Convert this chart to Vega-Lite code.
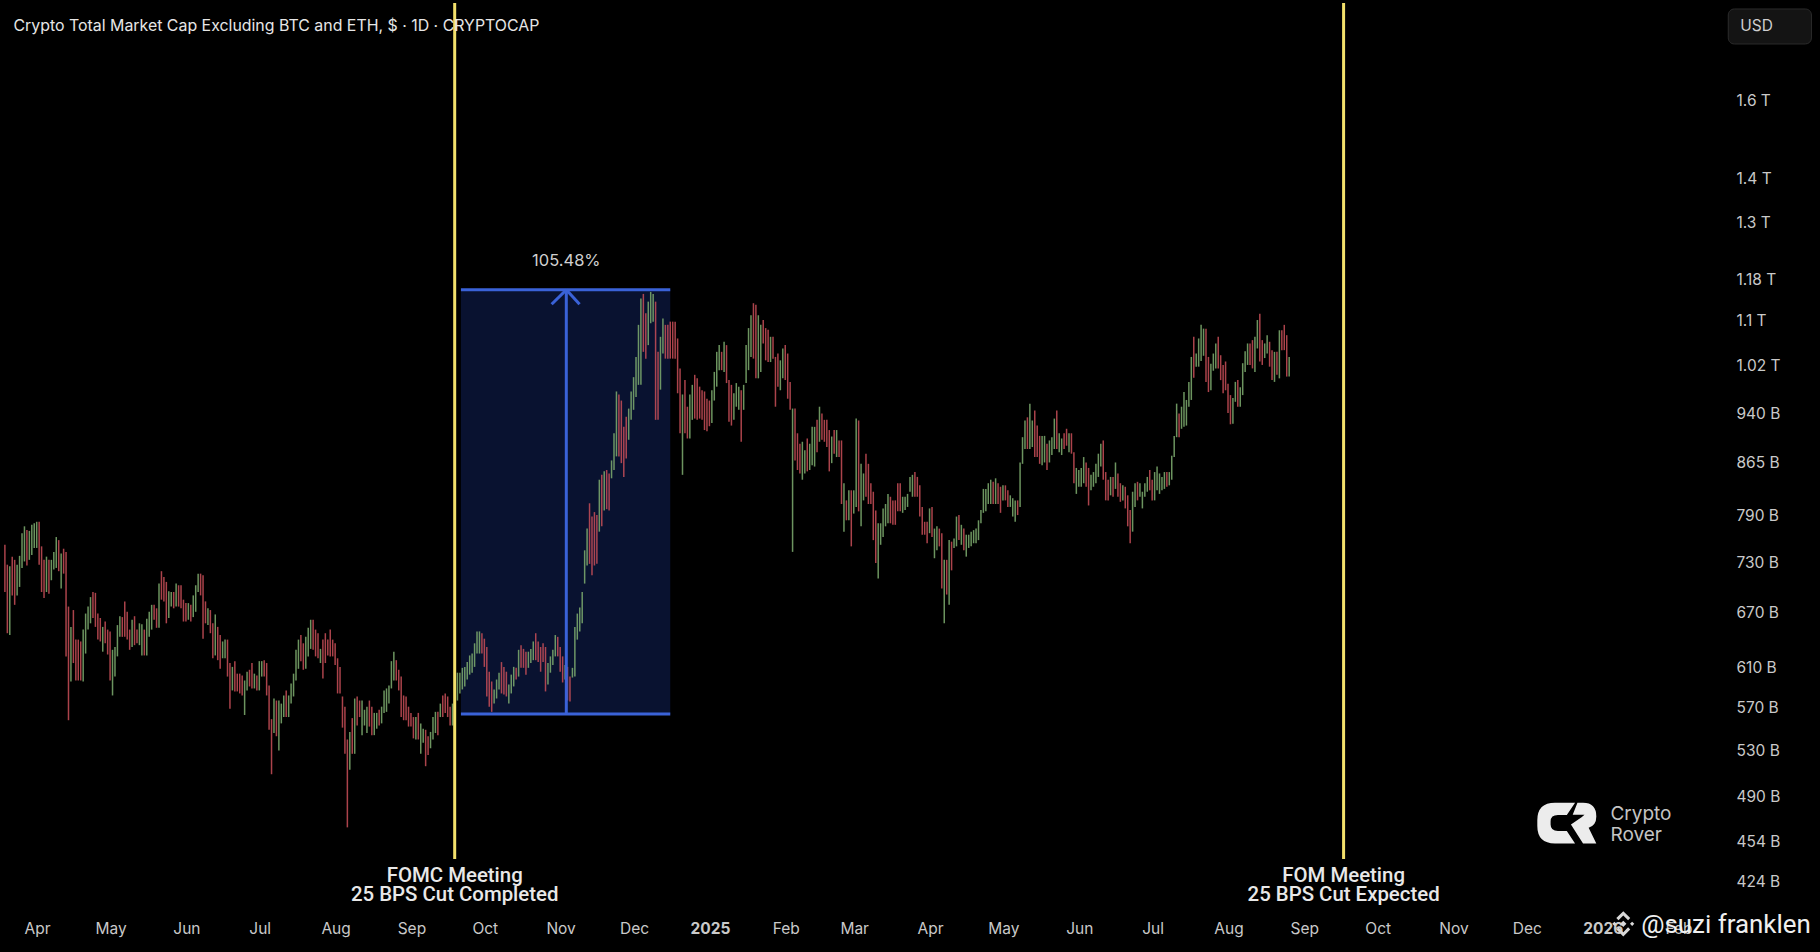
{
  "$schema": "https://vega.github.io/schema/vega-lite/v6.json",
  "width": 1820,
  "height": 952,
  "padding": 0,
  "autosize": "none",
  "background": "#000000",
  "config": {"view": {"stroke": null}},
  "encoding": {
    "x": {
      "field": "date",
      "type": "temporal",
      "scale": {"type": "utc", "domain": ["2024-03-16", "2026-03-30"]},
      "axis": {
        "title": null,
        "orient": "bottom",
        "offset": -31,
        "grid": false,
        "domain": false,
        "ticks": false,
        "labelPadding": 0,
        "labelOffset": -2,
        "labelFont": "Inter",
        "labelFontSize": 15.5,
        "labelColor": "#c9c9c9",
        "labelOverlap": false,
        "labelFontWeight": {"condition": {"test": "utcmonth(datum.value) == 0", "value": "bold"}, "value": "normal"},
        "labelExpr": "utcmonth(datum.value) == 0 ? utcFormat(datum.value, '%Y') : utcFormat(datum.value, '%b')",
        "values": ["2024-04-01","2024-05-01","2024-06-01","2024-07-01","2024-08-01","2024-09-01","2024-10-01","2024-11-01","2024-12-01","2025-01-01","2025-02-01","2025-03-01","2025-04-01","2025-05-01","2025-06-01","2025-07-01","2025-08-01","2025-09-01","2025-10-01","2025-11-01","2025-12-01","2026-01-01","2026-02-01"]
      }
    },
    "y": {
      "field": "low",
      "type": "quantitative",
      "scale": {"type": "log", "domain": [377.1, 1899.4], "nice": false},
      "axis": {
        "title": null,
        "orient": "right",
        "offset": -84,
        "grid": false,
        "domain": false,
        "ticks": false,
        "labelPadding": 0,
        "labelOffset": -1,
        "labelAlign": "left",
        "labelFont": "Inter",
        "labelFontSize": 15.5,
        "labelColor": "#c9c9c9",
        "labelOverlap": false,
        "values": [1600,1400,1300,1180,1100,1020,940,865,790,730,670,610,570,530,490,454,424],
        "labelExpr": "datum.value >= 1000 ? (datum.value / 1000) + ' T' : datum.value + ' B'"
      }
    }
  },
  "layer": [
    {
      "data": {"values": [{"date": "2024-09-20T10:00:00Z", "end": "2024-12-15T00:00:00Z", "low": 565, "high": 1161}], "format": {"parse": {"date": "date", "end": "date"}}},
      "mark": {"type": "rect", "fill": "#091230"},
      "encoding": {"x2": {"field": "end"}, "y2": {"field": "high"}}
    },
    {
      "data": {
        "format": {"parse": {"date": "date"}},
        "values": [
{"date":"2024-03-18","low":695,"high":753,"dir":"r"},
{"date":"2024-03-19","low":648,"high":728,"dir":"r"},
{"date":"2024-03-20","low":646,"high":726,"dir":"g"},
{"date":"2024-03-21","low":691,"high":738,"dir":"r"},
{"date":"2024-03-22","low":680,"high":734,"dir":"r"},
{"date":"2024-03-23","low":691,"high":728,"dir":"g"},
{"date":"2024-03-24","low":701,"high":739,"dir":"g"},
{"date":"2024-03-25","low":724,"high":768,"dir":"g"},
{"date":"2024-03-26","low":732,"high":777,"dir":"g"},
{"date":"2024-03-27","low":727,"high":772,"dir":"r"},
{"date":"2024-03-28","low":734,"high":771,"dir":"g"},
{"date":"2024-03-29","low":740,"high":779,"dir":"g"},
{"date":"2024-03-30","low":749,"high":781,"dir":"g"},
{"date":"2024-03-31","low":749,"high":783,"dir":"g"},
{"date":"2024-04-01","low":728,"high":783,"dir":"r"},
{"date":"2024-04-02","low":695,"high":751,"dir":"r"},
{"date":"2024-04-03","low":688,"high":734,"dir":"r"},
{"date":"2024-04-04","low":695,"high":738,"dir":"g"},
{"date":"2024-04-05","low":693,"high":734,"dir":"r"},
{"date":"2024-04-06","low":709,"high":734,"dir":"g"},
{"date":"2024-04-07","low":722,"high":744,"dir":"g"},
{"date":"2024-04-08","low":724,"high":763,"dir":"g"},
{"date":"2024-04-09","low":720,"high":759,"dir":"r"},
{"date":"2024-04-10","low":699,"high":742,"dir":"g"},
{"date":"2024-04-11","low":717,"high":748,"dir":"r"},
{"date":"2024-04-12","low":623,"high":744,"dir":"r"},
{"date":"2024-04-13","low":559,"high":678,"dir":"r"},
{"date":"2024-04-14","low":597,"high":655,"dir":"g"},
{"date":"2024-04-15","low":616,"high":674,"dir":"r"},
{"date":"2024-04-16","low":598,"high":641,"dir":"r"},
{"date":"2024-04-17","low":598,"high":641,"dir":"r"},
{"date":"2024-04-18","low":598,"high":639,"dir":"r"},
{"date":"2024-04-19","low":597,"high":652,"dir":"g"},
{"date":"2024-04-20","low":626,"high":670,"dir":"g"},
{"date":"2024-04-21","low":652,"high":678,"dir":"g"},
{"date":"2024-04-22","low":659,"high":689,"dir":"g"},
{"date":"2024-04-23","low":665,"high":695,"dir":"r"},
{"date":"2024-04-24","low":655,"high":694,"dir":"r"},
{"date":"2024-04-25","low":641,"high":670,"dir":"r"},
{"date":"2024-04-26","low":639,"high":665,"dir":"r"},
{"date":"2024-04-27","low":628,"high":655,"dir":"g"},
{"date":"2024-04-28","low":637,"high":661,"dir":"r"},
{"date":"2024-04-29","low":625,"high":652,"dir":"r"},
{"date":"2024-04-30","low":598,"high":650,"dir":"r"},
{"date":"2024-05-01","low":583,"high":630,"dir":"g"},
{"date":"2024-05-02","low":602,"high":633,"dir":"g"},
{"date":"2024-05-03","low":623,"high":657,"dir":"g"},
{"date":"2024-05-04","low":644,"high":667,"dir":"g"},
{"date":"2024-05-05","low":644,"high":666,"dir":"r"},
{"date":"2024-05-06","low":644,"high":684,"dir":"r"},
{"date":"2024-05-07","low":641,"high":672,"dir":"r"},
{"date":"2024-05-08","low":630,"high":652,"dir":"r"},
{"date":"2024-05-09","low":633,"high":663,"dir":"g"},
{"date":"2024-05-10","low":635,"high":667,"dir":"r"},
{"date":"2024-05-11","low":637,"high":652,"dir":"r"},
{"date":"2024-05-12","low":635,"high":659,"dir":"g"},
{"date":"2024-05-13","low":624,"high":658,"dir":"g"},
{"date":"2024-05-14","low":624,"high":652,"dir":"r"},
{"date":"2024-05-15","low":624,"high":664,"dir":"g"},
{"date":"2024-05-16","low":644,"high":672,"dir":"g"},
{"date":"2024-05-17","low":652,"high":680,"dir":"g"},
{"date":"2024-05-18","low":663,"high":680,"dir":"r"},
{"date":"2024-05-19","low":654,"high":676,"dir":"r"},
{"date":"2024-05-20","low":654,"high":705,"dir":"g"},
{"date":"2024-05-21","low":686,"high":720,"dir":"r"},
{"date":"2024-05-22","low":684,"high":713,"dir":"r"},
{"date":"2024-05-23","low":659,"high":707,"dir":"r"},
{"date":"2024-05-24","low":665,"high":696,"dir":"g"},
{"date":"2024-05-25","low":678,"high":695,"dir":"g"},
{"date":"2024-05-26","low":676,"high":695,"dir":"r"},
{"date":"2024-05-27","low":678,"high":705,"dir":"g"},
{"date":"2024-05-28","low":678,"high":703,"dir":"r"},
{"date":"2024-05-29","low":676,"high":703,"dir":"r"},
{"date":"2024-05-30","low":661,"high":686,"dir":"r"},
{"date":"2024-05-31","low":661,"high":682,"dir":"r"},
{"date":"2024-06-01","low":663,"high":682,"dir":"g"},
{"date":"2024-06-02","low":661,"high":680,"dir":"r"},
{"date":"2024-06-03","low":666,"high":691,"dir":"g"},
{"date":"2024-06-04","low":672,"high":703,"dir":"g"},
{"date":"2024-06-05","low":695,"high":717,"dir":"g"},
{"date":"2024-06-06","low":691,"high":717,"dir":"r"},
{"date":"2024-06-07","low":642,"high":715,"dir":"r"},
{"date":"2024-06-08","low":659,"high":684,"dir":"r"},
{"date":"2024-06-09","low":657,"high":676,"dir":"g"},
{"date":"2024-06-10","low":648,"high":674,"dir":"r"},
{"date":"2024-06-11","low":621,"high":659,"dir":"r"},
{"date":"2024-06-12","low":624,"high":669,"dir":"g"},
{"date":"2024-06-13","low":619,"high":655,"dir":"r"},
{"date":"2024-06-14","low":610,"high":646,"dir":"r"},
{"date":"2024-06-15","low":621,"high":639,"dir":"g"},
{"date":"2024-06-16","low":621,"high":641,"dir":"g"},
{"date":"2024-06-17","low":602,"high":641,"dir":"r"},
{"date":"2024-06-18","low":570,"high":616,"dir":"r"},
{"date":"2024-06-19","low":588,"high":612,"dir":"g"},
{"date":"2024-06-20","low":587,"high":618,"dir":"r"},
{"date":"2024-06-21","low":587,"high":605,"dir":"r"},
{"date":"2024-06-22","low":585,"high":605,"dir":"r"},
{"date":"2024-06-23","low":583,"high":603,"dir":"r"},
{"date":"2024-06-24","low":564,"high":598,"dir":"g"},
{"date":"2024-06-25","low":588,"high":607,"dir":"g"},
{"date":"2024-06-26","low":592,"high":609,"dir":"r"},
{"date":"2024-06-27","low":590,"high":616,"dir":"r"},
{"date":"2024-06-28","low":590,"high":605,"dir":"g"},
{"date":"2024-06-29","low":588,"high":603,"dir":"r"},
{"date":"2024-06-30","low":588,"high":618,"dir":"g"},
{"date":"2024-07-01","low":602,"high":618,"dir":"g"},
{"date":"2024-07-02","low":602,"high":619,"dir":"r"},
{"date":"2024-07-03","low":583,"high":616,"dir":"r"},
{"date":"2024-07-04","low":550,"high":593,"dir":"r"},
{"date":"2024-07-05","low":510,"high":560,"dir":"r"},
{"date":"2024-07-06","low":547,"high":580,"dir":"g"},
{"date":"2024-07-07","low":544,"high":578,"dir":"r"},
{"date":"2024-07-08","low":531,"high":578,"dir":"g"},
{"date":"2024-07-09","low":556,"high":575,"dir":"g"},
{"date":"2024-07-10","low":562,"high":583,"dir":"g"},
{"date":"2024-07-11","low":562,"high":588,"dir":"r"},
{"date":"2024-07-12","low":562,"high":583,"dir":"g"},
{"date":"2024-07-13","low":575,"high":595,"dir":"g"},
{"date":"2024-07-14","low":582,"high":605,"dir":"g"},
{"date":"2024-07-15","low":598,"high":630,"dir":"g"},
{"date":"2024-07-16","low":610,"high":641,"dir":"g"},
{"date":"2024-07-17","low":618,"high":646,"dir":"r"},
{"date":"2024-07-18","low":609,"high":637,"dir":"r"},
{"date":"2024-07-19","low":610,"high":644,"dir":"g"},
{"date":"2024-07-20","low":623,"high":654,"dir":"g"},
{"date":"2024-07-21","low":631,"high":663,"dir":"g"},
{"date":"2024-07-22","low":630,"high":663,"dir":"r"},
{"date":"2024-07-23","low":623,"high":652,"dir":"r"},
{"date":"2024-07-24","low":621,"high":648,"dir":"r"},
{"date":"2024-07-25","low":616,"high":631,"dir":"g"},
{"date":"2024-07-26","low":600,"high":641,"dir":"r"},
{"date":"2024-07-27","low":616,"high":648,"dir":"r"},
{"date":"2024-07-28","low":624,"high":641,"dir":"r"},
{"date":"2024-07-29","low":623,"high":652,"dir":"r"},
{"date":"2024-07-30","low":623,"high":641,"dir":"r"},
{"date":"2024-07-31","low":614,"high":637,"dir":"r"},
{"date":"2024-08-01","low":585,"high":621,"dir":"r"},
{"date":"2024-08-02","low":585,"high":612,"dir":"r"},
{"date":"2024-08-03","low":552,"high":582,"dir":"r"},
{"date":"2024-08-04","low":528,"high":572,"dir":"r"},
{"date":"2024-08-05","low":466,"high":541,"dir":"r"},
{"date":"2024-08-06","low":514,"high":548,"dir":"g"},
{"date":"2024-08-07","low":528,"high":561,"dir":"r"},
{"date":"2024-08-08","low":528,"high":580,"dir":"g"},
{"date":"2024-08-09","low":554,"high":582,"dir":"r"},
{"date":"2024-08-10","low":562,"high":578,"dir":"r"},
{"date":"2024-08-11","low":545,"high":578,"dir":"g"},
{"date":"2024-08-12","low":554,"high":569,"dir":"g"},
{"date":"2024-08-13","low":547,"high":572,"dir":"g"},
{"date":"2024-08-14","low":553,"high":578,"dir":"r"},
{"date":"2024-08-15","low":545,"high":572,"dir":"r"},
{"date":"2024-08-16","low":545,"high":566,"dir":"g"},
{"date":"2024-08-17","low":551,"high":566,"dir":"g"},
{"date":"2024-08-18","low":554,"high":569,"dir":"r"},
{"date":"2024-08-19","low":556,"high":572,"dir":"g"},
{"date":"2024-08-20","low":566,"high":588,"dir":"g"},
{"date":"2024-08-21","low":567,"high":590,"dir":"g"},
{"date":"2024-08-22","low":575,"high":593,"dir":"g"},
{"date":"2024-08-23","low":590,"high":618,"dir":"g"},
{"date":"2024-08-24","low":598,"high":628,"dir":"g"},
{"date":"2024-08-25","low":598,"high":619,"dir":"r"},
{"date":"2024-08-26","low":588,"high":609,"dir":"r"},
{"date":"2024-08-27","low":562,"high":602,"dir":"r"},
{"date":"2024-08-28","low":559,"high":583,"dir":"r"},
{"date":"2024-08-29","low":559,"high":582,"dir":"r"},
{"date":"2024-08-30","low":553,"high":572,"dir":"r"},
{"date":"2024-08-31","low":553,"high":566,"dir":"r"},
{"date":"2024-09-01","low":542,"high":562,"dir":"r"},
{"date":"2024-09-02","low":541,"high":562,"dir":"g"},
{"date":"2024-09-03","low":541,"high":566,"dir":"r"},
{"date":"2024-09-04","low":528,"high":556,"dir":"g"},
{"date":"2024-09-05","low":538,"high":551,"dir":"g"},
{"date":"2024-09-06","low":517,"high":550,"dir":"r"},
{"date":"2024-09-07","low":527,"high":544,"dir":"r"},
{"date":"2024-09-08","low":533,"high":548,"dir":"g"},
{"date":"2024-09-09","low":541,"high":562,"dir":"g"},
{"date":"2024-09-10","low":547,"high":567,"dir":"g"},
{"date":"2024-09-11","low":545,"high":567,"dir":"r"},
{"date":"2024-09-12","low":562,"high":575,"dir":"g"},
{"date":"2024-09-13","low":562,"high":583,"dir":"r"},
{"date":"2024-09-14","low":566,"high":585,"dir":"r"},
{"date":"2024-09-15","low":562,"high":582,"dir":"r"},
{"date":"2024-09-16","low":554,"high":572,"dir":"r"},
{"date":"2024-09-17","low":554,"high":575,"dir":"g"},
{"date":"2024-09-18","low":554,"high":578,"dir":"r"},
{"date":"2024-09-19","low":578,"high":606,"dir":"g"},
{"date":"2024-09-20","low":585,"high":606,"dir":"g"},
{"date":"2024-09-21","low":589,"high":611,"dir":"g"},
{"date":"2024-09-22","low":592,"high":612,"dir":"g"},
{"date":"2024-09-23","low":599,"high":617,"dir":"g"},
{"date":"2024-09-24","low":604,"high":624,"dir":"g"},
{"date":"2024-09-25","low":606,"high":626,"dir":"g"},
{"date":"2024-09-26","low":612,"high":637,"dir":"g"},
{"date":"2024-09-27","low":626,"high":650,"dir":"g"},
{"date":"2024-09-28","low":626,"high":650,"dir":"g"},
{"date":"2024-09-29","low":626,"high":648,"dir":"r"},
{"date":"2024-09-30","low":612,"high":642,"dir":"r"},
{"date":"2024-10-01","low":582,"high":633,"dir":"r"},
{"date":"2024-10-02","low":572,"high":607,"dir":"r"},
{"date":"2024-10-03","low":567,"high":597,"dir":"r"},
{"date":"2024-10-04","low":575,"high":589,"dir":"g"},
{"date":"2024-10-05","low":580,"high":599,"dir":"g"},
{"date":"2024-10-06","low":589,"high":606,"dir":"g"},
{"date":"2024-10-07","low":585,"high":617,"dir":"r"},
{"date":"2024-10-08","low":584,"high":612,"dir":"r"},
{"date":"2024-10-09","low":582,"high":607,"dir":"r"},
{"date":"2024-10-10","low":575,"high":594,"dir":"g"},
{"date":"2024-10-11","low":585,"high":604,"dir":"g"},
{"date":"2024-10-12","low":592,"high":612,"dir":"g"},
{"date":"2024-10-13","low":599,"high":611,"dir":"r"},
{"date":"2024-10-14","low":602,"high":630,"dir":"g"},
{"date":"2024-10-15","low":611,"high":635,"dir":"r"},
{"date":"2024-10-16","low":611,"high":631,"dir":"r"},
{"date":"2024-10-17","low":604,"high":628,"dir":"r"},
{"date":"2024-10-18","low":611,"high":628,"dir":"g"},
{"date":"2024-10-19","low":616,"high":631,"dir":"g"},
{"date":"2024-10-20","low":619,"high":639,"dir":"g"},
{"date":"2024-10-21","low":619,"high":648,"dir":"r"},
{"date":"2024-10-22","low":617,"high":639,"dir":"r"},
{"date":"2024-10-23","low":607,"high":633,"dir":"r"},
{"date":"2024-10-24","low":617,"high":637,"dir":"r"},
{"date":"2024-10-25","low":587,"high":633,"dir":"r"},
{"date":"2024-10-26","low":594,"high":616,"dir":"g"},
{"date":"2024-10-27","low":606,"high":623,"dir":"g"},
{"date":"2024-10-28","low":614,"high":630,"dir":"g"},
{"date":"2024-10-29","low":623,"high":646,"dir":"g"},
{"date":"2024-10-30","low":623,"high":644,"dir":"r"},
{"date":"2024-10-31","low":607,"high":633,"dir":"r"},
{"date":"2024-11-01","low":596,"high":623,"dir":"r"},
{"date":"2024-11-02","low":599,"high":614,"dir":"g"},
{"date":"2024-11-03","low":578,"high":612,"dir":"r"},
{"date":"2024-11-04","low":577,"high":602,"dir":"r"},
{"date":"2024-11-05","low":601,"high":611,"dir":"g"},
{"date":"2024-11-06","low":602,"high":655,"dir":"g"},
{"date":"2024-11-07","low":641,"high":670,"dir":"g"},
{"date":"2024-11-08","low":650,"high":677,"dir":"g"},
{"date":"2024-11-09","low":659,"high":695,"dir":"g"},
{"date":"2024-11-10","low":705,"high":746,"dir":"g"},
{"date":"2024-11-11","low":727,"high":774,"dir":"g"},
{"date":"2024-11-12","low":729,"high":808,"dir":"r"},
{"date":"2024-11-13","low":715,"high":790,"dir":"r"},
{"date":"2024-11-14","low":727,"high":796,"dir":"r"},
{"date":"2024-11-15","low":729,"high":792,"dir":"r"},
{"date":"2024-11-16","low":770,"high":841,"dir":"g"},
{"date":"2024-11-17","low":777,"high":848,"dir":"r"},
{"date":"2024-11-18","low":798,"high":853,"dir":"g"},
{"date":"2024-11-19","low":800,"high":855,"dir":"r"},
{"date":"2024-11-20","low":798,"high":850,"dir":"r"},
{"date":"2024-11-21","low":843,"high":869,"dir":"g"},
{"date":"2024-11-22","low":855,"high":910,"dir":"g"},
{"date":"2024-11-23","low":875,"high":977,"dir":"g"},
{"date":"2024-11-24","low":875,"high":972,"dir":"r"},
{"date":"2024-11-25","low":865,"high":962,"dir":"r"},
{"date":"2024-11-26","low":845,"high":920,"dir":"r"},
{"date":"2024-11-27","low":872,"high":936,"dir":"r"},
{"date":"2024-11-28","low":900,"high":949,"dir":"g"},
{"date":"2024-11-29","low":931,"high":977,"dir":"g"},
{"date":"2024-11-30","low":947,"high":1001,"dir":"g"},
{"date":"2024-12-01","low":968,"high":1036,"dir":"g"},
{"date":"2024-12-02","low":988,"high":1094,"dir":"g"},
{"date":"2024-12-03","low":988,"high":1144,"dir":"g"},
{"date":"2024-12-04","low":1045,"high":1153,"dir":"r"},
{"date":"2024-12-05","low":1033,"high":1116,"dir":"r"},
{"date":"2024-12-06","low":1057,"high":1138,"dir":"g"},
{"date":"2024-12-07","low":1097,"high":1157,"dir":"g"},
{"date":"2024-12-08","low":1100,"high":1153,"dir":"g"},
{"date":"2024-12-09","low":931,"high":1138,"dir":"r"},
{"date":"2024-12-10","low":931,"high":1045,"dir":"r"},
{"date":"2024-12-11","low":980,"high":1072,"dir":"g"},
{"date":"2024-12-12","low":1042,"high":1106,"dir":"g"},
{"date":"2024-12-13","low":1033,"high":1094,"dir":"r"},
{"date":"2024-12-14","low":1033,"high":1094,"dir":"r"},
{"date":"2024-12-15","low":1033,"high":1100,"dir":"r"},
{"date":"2024-12-16","low":1033,"high":1100,"dir":"r"},
{"date":"2024-12-17","low":1033,"high":1100,"dir":"r"},
{"date":"2024-12-18","low":974,"high":1069,"dir":"r"},
{"date":"2024-12-19","low":910,"high":1016,"dir":"r"},
{"date":"2024-12-20","low":848,"high":972,"dir":"g"},
{"date":"2024-12-21","low":910,"high":996,"dir":"r"},
{"date":"2024-12-22","low":902,"high":952,"dir":"r"},
{"date":"2024-12-23","low":902,"high":972,"dir":"g"},
{"date":"2024-12-24","low":931,"high":988,"dir":"g"},
{"date":"2024-12-25","low":933,"high":1005,"dir":"r"},
{"date":"2024-12-26","low":931,"high":999,"dir":"r"},
{"date":"2024-12-27","low":933,"high":985,"dir":"r"},
{"date":"2024-12-28","low":931,"high":979,"dir":"r"},
{"date":"2024-12-29","low":915,"high":977,"dir":"r"},
{"date":"2024-12-30","low":913,"high":965,"dir":"r"},
{"date":"2024-12-31","low":921,"high":962,"dir":"r"},
{"date":"2025-01-01","low":926,"high":979,"dir":"g"},
{"date":"2025-01-02","low":962,"high":1010,"dir":"g"},
{"date":"2025-01-03","low":985,"high":1045,"dir":"g"},
{"date":"2025-01-04","low":1013,"high":1057,"dir":"g"},
{"date":"2025-01-05","low":1013,"high":1045,"dir":"r"},
{"date":"2025-01-06","low":1010,"high":1063,"dir":"g"},
{"date":"2025-01-07","low":991,"high":1057,"dir":"r"},
{"date":"2025-01-08","low":928,"high":996,"dir":"r"},
{"date":"2025-01-09","low":922,"high":988,"dir":"r"},
{"date":"2025-01-10","low":931,"high":974,"dir":"g"},
{"date":"2025-01-11","low":952,"high":991,"dir":"g"},
{"date":"2025-01-12","low":947,"high":985,"dir":"g"},
{"date":"2025-01-13","low":897,"high":979,"dir":"r"},
{"date":"2025-01-14","low":947,"high":988,"dir":"g"},
{"date":"2025-01-15","low":991,"high":1057,"dir":"g"},
{"date":"2025-01-16","low":1013,"high":1088,"dir":"g"},
{"date":"2025-01-17","low":1036,"high":1112,"dir":"g"},
{"date":"2025-01-18","low":1033,"high":1135,"dir":"r"},
{"date":"2025-01-19","low":999,"high":1132,"dir":"r"},
{"date":"2025-01-20","low":999,"high":1112,"dir":"g"},
{"date":"2025-01-21","low":1010,"high":1094,"dir":"g"},
{"date":"2025-01-22","low":1060,"high":1103,"dir":"r"},
{"date":"2025-01-23","low":1030,"high":1088,"dir":"r"},
{"date":"2025-01-24","low":1027,"high":1085,"dir":"r"},
{"date":"2025-01-25","low":1027,"high":1072,"dir":"g"},
{"date":"2025-01-26","low":1033,"high":1072,"dir":"r"},
{"date":"2025-01-27","low":952,"high":1036,"dir":"r"},
{"date":"2025-01-28","low":985,"high":1042,"dir":"r"},
{"date":"2025-01-29","low":979,"high":1030,"dir":"g"},
{"date":"2025-01-30","low":999,"high":1051,"dir":"g"},
{"date":"2025-01-31","low":996,"high":1057,"dir":"r"},
{"date":"2025-02-01","low":965,"high":1042,"dir":"r"},
{"date":"2025-02-02","low":947,"high":993,"dir":"r"},
{"date":"2025-02-03","low":744,"high":949,"dir":"g"},
{"date":"2025-02-04","low":869,"high":949,"dir":"r"},
{"date":"2025-02-05","low":855,"high":910,"dir":"r"},
{"date":"2025-02-06","low":850,"high":894,"dir":"r"},
{"date":"2025-02-07","low":841,"high":897,"dir":"g"},
{"date":"2025-02-08","low":850,"high":884,"dir":"g"},
{"date":"2025-02-09","low":853,"high":902,"dir":"r"},
{"date":"2025-02-10","low":855,"high":894,"dir":"g"},
{"date":"2025-02-11","low":862,"high":920,"dir":"g"},
{"date":"2025-02-12","low":860,"high":920,"dir":"g"},
{"date":"2025-02-13","low":881,"high":931,"dir":"r"},
{"date":"2025-02-14","low":897,"high":952,"dir":"g"},
{"date":"2025-02-15","low":900,"high":941,"dir":"r"},
{"date":"2025-02-16","low":897,"high":931,"dir":"r"},
{"date":"2025-02-17","low":889,"high":931,"dir":"r"},
{"date":"2025-02-18","low":853,"high":915,"dir":"r"},
{"date":"2025-02-19","low":865,"high":905,"dir":"g"},
{"date":"2025-02-20","low":879,"high":915,"dir":"r"},
{"date":"2025-02-21","low":874,"high":915,"dir":"g"},
{"date":"2025-02-22","low":874,"high":899,"dir":"r"},
{"date":"2025-02-23","low":807,"high":899,"dir":"r"},
{"date":"2025-02-24","low":770,"high":836,"dir":"g"},
{"date":"2025-02-25","low":785,"high":812,"dir":"r"},
{"date":"2025-02-26","low":785,"high":826,"dir":"g"},
{"date":"2025-02-27","low":751,"high":826,"dir":"r"},
{"date":"2025-02-28","low":794,"high":826,"dir":"g"},
{"date":"2025-03-01","low":803,"high":933,"dir":"g"},
{"date":"2025-03-02","low":797,"high":930,"dir":"r"},
{"date":"2025-03-03","low":777,"high":864,"dir":"g"},
{"date":"2025-03-04","low":812,"high":850,"dir":"g"},
{"date":"2025-03-05","low":817,"high":879,"dir":"r"},
{"date":"2025-03-06","low":807,"high":864,"dir":"r"},
{"date":"2025-03-07","low":807,"high":836,"dir":"r"},
{"date":"2025-03-08","low":759,"high":824,"dir":"r"},
{"date":"2025-03-09","low":730,"high":798,"dir":"r"},
{"date":"2025-03-10","low":711,"high":781,"dir":"g"},
{"date":"2025-03-11","low":753,"high":781,"dir":"g"},
{"date":"2025-03-12","low":763,"high":801,"dir":"g"},
{"date":"2025-03-13","low":777,"high":807,"dir":"g"},
{"date":"2025-03-14","low":781,"high":821,"dir":"g"},
{"date":"2025-03-15","low":781,"high":817,"dir":"r"},
{"date":"2025-03-16","low":779,"high":812,"dir":"r"},
{"date":"2025-03-17","low":779,"high":812,"dir":"r"},
{"date":"2025-03-18","low":797,"high":836,"dir":"r"},
{"date":"2025-03-19","low":797,"high":836,"dir":"r"},
{"date":"2025-03-20","low":795,"high":817,"dir":"g"},
{"date":"2025-03-21","low":799,"high":817,"dir":"g"},
{"date":"2025-03-22","low":803,"high":821,"dir":"g"},
{"date":"2025-03-23","low":824,"high":845,"dir":"g"},
{"date":"2025-03-24","low":817,"high":848,"dir":"g"},
{"date":"2025-03-25","low":817,"high":852,"dir":"r"},
{"date":"2025-03-26","low":817,"high":845,"dir":"r"},
{"date":"2025-03-27","low":790,"high":833,"dir":"r"},
{"date":"2025-03-28","low":766,"high":803,"dir":"r"},
{"date":"2025-03-29","low":766,"high":783,"dir":"r"},
{"date":"2025-03-30","low":755,"high":783,"dir":"r"},
{"date":"2025-03-31","low":768,"high":801,"dir":"g"},
{"date":"2025-04-01","low":763,"high":803,"dir":"r"},
{"date":"2025-04-02","low":736,"high":774,"dir":"g"},
{"date":"2025-04-03","low":746,"high":777,"dir":"g"},
{"date":"2025-04-04","low":751,"high":774,"dir":"r"},
{"date":"2025-04-05","low":699,"high":768,"dir":"r"},
{"date":"2025-04-06","low":659,"high":734,"dir":"g"},
{"date":"2025-04-07","low":692,"high":734,"dir":"r"},
{"date":"2025-04-08","low":680,"high":759,"dir":"g"},
{"date":"2025-04-09","low":721,"high":757,"dir":"r"},
{"date":"2025-04-10","low":749,"high":761,"dir":"g"},
{"date":"2025-04-11","low":751,"high":790,"dir":"g"},
{"date":"2025-04-12","low":759,"high":792,"dir":"r"},
{"date":"2025-04-13","low":753,"high":779,"dir":"g"},
{"date":"2025-04-14","low":746,"high":774,"dir":"r"},
{"date":"2025-04-15","low":738,"high":766,"dir":"g"},
{"date":"2025-04-16","low":749,"high":766,"dir":"g"},
{"date":"2025-04-17","low":751,"high":770,"dir":"g"},
{"date":"2025-04-18","low":755,"high":772,"dir":"g"},
{"date":"2025-04-19","low":755,"high":774,"dir":"g"},
{"date":"2025-04-20","low":759,"high":785,"dir":"g"},
{"date":"2025-04-21","low":781,"high":799,"dir":"g"},
{"date":"2025-04-22","low":795,"high":828,"dir":"g"},
{"date":"2025-04-23","low":797,"high":828,"dir":"g"},
{"date":"2025-04-24","low":807,"high":836,"dir":"g"},
{"date":"2025-04-25","low":807,"high":841,"dir":"g"},
{"date":"2025-04-26","low":807,"high":838,"dir":"r"},
{"date":"2025-04-27","low":807,"high":843,"dir":"g"},
{"date":"2025-04-28","low":807,"high":836,"dir":"r"},
{"date":"2025-04-29","low":795,"high":831,"dir":"r"},
{"date":"2025-04-30","low":812,"high":833,"dir":"g"},
{"date":"2025-05-01","low":812,"high":833,"dir":"r"},
{"date":"2025-05-02","low":803,"high":826,"dir":"r"},
{"date":"2025-05-03","low":803,"high":819,"dir":"g"},
{"date":"2025-05-04","low":790,"high":815,"dir":"g"},
{"date":"2025-05-05","low":783,"high":812,"dir":"g"},
{"date":"2025-05-06","low":792,"high":812,"dir":"r"},
{"date":"2025-05-07","low":803,"high":866,"dir":"g"},
{"date":"2025-05-08","low":864,"high":904,"dir":"g"},
{"date":"2025-05-09","low":886,"high":930,"dir":"g"},
{"date":"2025-05-10","low":886,"high":935,"dir":"r"},
{"date":"2025-05-11","low":886,"high":957,"dir":"g"},
{"date":"2025-05-12","low":889,"high":930,"dir":"g"},
{"date":"2025-05-13","low":874,"high":946,"dir":"r"},
{"date":"2025-05-14","low":874,"high":922,"dir":"r"},
{"date":"2025-05-15","low":864,"high":906,"dir":"r"},
{"date":"2025-05-16","low":862,"high":906,"dir":"g"},
{"date":"2025-05-17","low":866,"high":906,"dir":"g"},
{"date":"2025-05-18","low":855,"high":894,"dir":"r"},
{"date":"2025-05-19","low":866,"high":899,"dir":"g"},
{"date":"2025-05-20","low":877,"high":904,"dir":"g"},
{"date":"2025-05-21","low":886,"high":933,"dir":"g"},
{"date":"2025-05-22","low":886,"high":946,"dir":"r"},
{"date":"2025-05-23","low":881,"high":910,"dir":"g"},
{"date":"2025-05-24","low":877,"high":902,"dir":"g"},
{"date":"2025-05-25","low":886,"high":910,"dir":"r"},
{"date":"2025-05-26","low":891,"high":917,"dir":"r"},
{"date":"2025-05-27","low":881,"high":910,"dir":"g"},
{"date":"2025-05-28","low":879,"high":910,"dir":"r"},
{"date":"2025-05-29","low":836,"high":881,"dir":"r"},
{"date":"2025-05-30","low":821,"high":858,"dir":"g"},
{"date":"2025-05-31","low":831,"high":855,"dir":"g"},
{"date":"2025-06-01","low":831,"high":858,"dir":"g"},
{"date":"2025-06-02","low":836,"high":874,"dir":"g"},
{"date":"2025-06-03","low":831,"high":866,"dir":"r"},
{"date":"2025-06-04","low":805,"high":858,"dir":"r"},
{"date":"2025-06-05","low":826,"high":848,"dir":"g"},
{"date":"2025-06-06","low":831,"high":852,"dir":"g"},
{"date":"2025-06-07","low":836,"high":864,"dir":"g"},
{"date":"2025-06-08","low":845,"high":879,"dir":"g"},
{"date":"2025-06-09","low":860,"high":894,"dir":"g"},
{"date":"2025-06-10","low":841,"high":899,"dir":"r"},
{"date":"2025-06-11","low":812,"high":852,"dir":"r"},
{"date":"2025-06-12","low":812,"high":841,"dir":"r"},
{"date":"2025-06-13","low":819,"high":845,"dir":"g"},
{"date":"2025-06-14","low":817,"high":845,"dir":"r"},
{"date":"2025-06-15","low":828,"high":866,"dir":"g"},
{"date":"2025-06-16","low":817,"high":850,"dir":"r"},
{"date":"2025-06-17","low":810,"high":836,"dir":"r"},
{"date":"2025-06-18","low":812,"high":833,"dir":"g"},
{"date":"2025-06-19","low":801,"high":831,"dir":"r"},
{"date":"2025-06-20","low":777,"high":819,"dir":"r"},
{"date":"2025-06-21","low":755,"high":799,"dir":"r"},
{"date":"2025-06-22","low":770,"high":824,"dir":"g"},
{"date":"2025-06-23","low":803,"high":836,"dir":"g"},
{"date":"2025-06-24","low":812,"high":838,"dir":"r"},
{"date":"2025-06-25","low":817,"high":836,"dir":"g"},
{"date":"2025-06-26","low":801,"high":824,"dir":"g"},
{"date":"2025-06-27","low":817,"high":836,"dir":"g"},
{"date":"2025-06-28","low":824,"high":845,"dir":"g"},
{"date":"2025-06-29","low":826,"high":855,"dir":"r"},
{"date":"2025-06-30","low":812,"high":841,"dir":"r"},
{"date":"2025-07-01","low":812,"high":852,"dir":"g"},
{"date":"2025-07-02","low":826,"high":860,"dir":"g"},
{"date":"2025-07-03","low":821,"high":850,"dir":"g"},
{"date":"2025-07-04","low":826,"high":845,"dir":"g"},
{"date":"2025-07-05","low":828,"high":852,"dir":"g"},
{"date":"2025-07-06","low":831,"high":852,"dir":"r"},
{"date":"2025-07-07","low":833,"high":852,"dir":"g"},
{"date":"2025-07-08","low":841,"high":876,"dir":"g"},
{"date":"2025-07-09","low":874,"high":906,"dir":"g"},
{"date":"2025-07-10","low":904,"high":957,"dir":"g"},
{"date":"2025-07-11","low":904,"high":941,"dir":"r"},
{"date":"2025-07-12","low":917,"high":952,"dir":"g"},
{"date":"2025-07-13","low":920,"high":976,"dir":"g"},
{"date":"2025-07-14","low":922,"high":963,"dir":"g"},
{"date":"2025-07-15","low":952,"high":993,"dir":"g"},
{"date":"2025-07-16","low":963,"high":1036,"dir":"g"},
{"date":"2025-07-17","low":1000,"high":1072,"dir":"r"},
{"date":"2025-07-18","low":1019,"high":1042,"dir":"g"},
{"date":"2025-07-19","low":1019,"high":1069,"dir":"g"},
{"date":"2025-07-20","low":1029,"high":1094,"dir":"g"},
{"date":"2025-07-21","low":1038,"high":1087,"dir":"g"},
{"date":"2025-07-22","low":993,"high":1087,"dir":"r"},
{"date":"2025-07-23","low":976,"high":1036,"dir":"r"},
{"date":"2025-07-24","low":979,"high":1024,"dir":"g"},
{"date":"2025-07-25","low":1012,"high":1042,"dir":"g"},
{"date":"2025-07-26","low":1016,"high":1060,"dir":"g"},
{"date":"2025-07-27","low":1016,"high":1072,"dir":"r"},
{"date":"2025-07-28","low":996,"high":1039,"dir":"r"},
{"date":"2025-07-29","low":974,"high":1022,"dir":"r"},
{"date":"2025-07-30","low":979,"high":1028,"dir":"r"},
{"date":"2025-07-31","low":942,"high":990,"dir":"r"},
{"date":"2025-08-01","low":924,"high":971,"dir":"r"},
{"date":"2025-08-02","low":925,"high":966,"dir":"g"},
{"date":"2025-08-03","low":960,"high":993,"dir":"g"},
{"date":"2025-08-04","low":952,"high":996,"dir":"r"},
{"date":"2025-08-05","low":952,"high":984,"dir":"g"},
{"date":"2025-08-06","low":971,"high":1025,"dir":"g"},
{"date":"2025-08-07","low":1010,"high":1046,"dir":"g"},
{"date":"2025-08-08","low":1022,"high":1060,"dir":"g"},
{"date":"2025-08-09","low":1022,"high":1060,"dir":"r"},
{"date":"2025-08-10","low":1016,"high":1066,"dir":"r"},
{"date":"2025-08-11","low":1010,"high":1072,"dir":"g"},
{"date":"2025-08-12","low":1051,"high":1103,"dir":"g"},
{"date":"2025-08-13","low":1028,"high":1115,"dir":"r"},
{"date":"2025-08-14","low":1022,"high":1066,"dir":"r"},
{"date":"2025-08-15","low":1034,"high":1060,"dir":"g"},
{"date":"2025-08-16","low":1042,"high":1075,"dir":"g"},
{"date":"2025-08-17","low":1019,"high":1063,"dir":"r"},
{"date":"2025-08-18","low":996,"high":1048,"dir":"r"},
{"date":"2025-08-19","low":993,"high":1045,"dir":"g"},
{"date":"2025-08-20","low":1005,"high":1045,"dir":"r"},
{"date":"2025-08-21","low":999,"high":1084,"dir":"g"},
{"date":"2025-08-22","low":1048,"high":1084,"dir":"r"},
{"date":"2025-08-23","low":1048,"high":1094,"dir":"r"},
{"date":"2025-08-24","low":1002,"high":1075,"dir":"r"},
{"date":"2025-08-25","low":1002,"high":1036,"dir":"g"}
        ]
      },
      "mark": {"type": "rule", "strokeWidth": 1.5, "opacity": 0.85},
      "encoding": {
        "y2": {"field": "high"},
        "color": {"field": "dir", "type": "nominal", "scale": {"domain": ["r", "g"], "range": ["#c94f58", "#7fae70"]}, "legend": null}
      }
    },
    {
      "data": {"values": [
        {"date": "2024-09-20T10:00:00Z", "end": "2024-12-15T00:00:00Z", "low": 1161},
        {"date": "2024-09-20T10:00:00Z", "end": "2024-12-15T00:00:00Z", "low": 565}
      ], "format": {"parse": {"date": "date", "end": "date"}}},
      "mark": {"type": "rule", "stroke": "#3a62d8", "strokeWidth": 3},
      "encoding": {"x2": {"field": "end"}}
    },
    {
      "data": {"values": [
        {"date": "2024-11-02T12:00:00Z", "end": "2024-11-02T12:00:00Z", "low": 565, "high": 1161},
        {"date": "2024-11-02T12:00:00Z", "end": "2024-10-27T12:00:00Z", "low": 1161, "high": 1133},
        {"date": "2024-11-02T12:00:00Z", "end": "2024-11-07T22:00:00Z", "low": 1161, "high": 1133}
      ], "format": {"parse": {"date": "date", "end": "date"}}},
      "mark": {"type": "rule", "stroke": "#3a62d8", "strokeWidth": 3},
      "encoding": {"x2": {"field": "end"}, "y2": {"field": "high"}}
    },
    {
      "data": {"values": [
        {"date": "2024-09-17T21:00:00Z", "low": 441.6, "high": 1890},
        {"date": "2025-09-16T06:00:00Z", "low": 441.6, "high": 1890}
      ], "format": {"parse": {"date": "date"}}},
      "mark": {"type": "rule", "stroke": "#f3e06b", "strokeWidth": 3},
      "encoding": {"y2": {"field": "high"}}
    },
    {
      "data": {"values": [{"date": "2024-03-21T12:00:00Z", "low": 1818, "label": "Crypto Total Market Cap Excluding BTC and ETH, $ · 1D · CRYPTOCAP"}], "format": {"parse": {"date": "date"}}},
      "mark": {"type": "text", "align": "left", "baseline": "middle", "font": "Inter", "fontSize": 15.9, "color": "#e6e6e6"},
      "encoding": {"text": {"field": "label"}}
    },
    {
      "data": {"values": [{"date": "2024-11-02T12:00:00Z", "low": 1219, "label": "105.48%"}], "format": {"parse": {"date": "date"}}},
      "mark": {"type": "text", "align": "center", "baseline": "middle", "font": "Inter", "fontSize": 16.5, "color": "#cfcfcf"},
      "encoding": {"text": {"field": "label"}}
    },
    {
      "data": {"values": [
        {"date": "2024-09-17T21:00:00Z", "low": 429, "label": "FOMC Meeting"},
        {"date": "2024-09-17T21:00:00Z", "low": 415.4, "label": "25 BPS Cut Completed"},
        {"date": "2025-09-16T06:00:00Z", "low": 429, "label": "FOM Meeting"},
        {"date": "2025-09-16T06:00:00Z", "low": 415.4, "label": "25 BPS Cut Expected"}
      ], "format": {"parse": {"date": "date"}}},
      "mark": {"type": "text", "align": "center", "baseline": "middle", "font": "Roboto", "fontSize": 20.4, "fontWeight": 500, "color": "#e8e8e8"},
      "encoding": {"text": {"field": "label"}}
    },
    {
      "data": {"values": [{"date": "2026-02-20T12:00:00Z", "end": "2026-03-26T12:00:00Z", "low": 1762.7, "high": 1870.6}], "format": {"parse": {"date": "date", "end": "date"}}},
      "mark": {"type": "rect", "fill": "#141414", "stroke": "#2b2b2b", "strokeWidth": 1, "cornerRadius": 6},
      "encoding": {"x2": {"field": "end"}, "y2": {"field": "high"}}
    },
    {
      "data": {"values": [{"date": "2026-02-25T10:00:00Z", "low": 1817, "label": "USD"}], "format": {"parse": {"date": "date"}}},
      "mark": {"type": "text", "align": "left", "baseline": "middle", "font": "Inter", "fontSize": 15.5, "color": "#cfcfcf"},
      "encoding": {"text": {"field": "label"}}
    },
    {
      "data": {"values": [
        {"date": "2026-01-03T08:00:00Z", "low": 476.4, "label": "Crypto"},
        {"date": "2026-01-03T08:00:00Z", "low": 460, "label": "Rover"}
      ], "format": {"parse": {"date": "date"}}},
      "mark": {"type": "text", "align": "left", "baseline": "middle", "font": "Inter", "fontSize": 19, "color": "#c4c4c4"},
      "encoding": {"text": {"field": "label"}}
    },
    {
      "data": {"values": [{"date": "2025-12-16T12:00:00Z", "low": 469.4}], "format": {"parse": {"date": "date"}}},
      "mark": {"type": "point", "filled": true, "opacity": 1, "color": "#ececec", "size": 3481, "shape": "M0.28,-0.69 L-0.4,-0.69 Q-1,-0.69 -1,-0.1 L-1,0.1 Q-1,0.69 -0.4,0.69 L0.28,0.69 L0,0.27 L-0.3,0.27 Q-0.55,0.27 -0.55,0.05 L-0.55,-0.05 Q-0.55,-0.27 -0.3,-0.27 L0,-0.27 Z M0.36,-0.69 L0.55,-0.69 Q1,-0.69 1,-0.22 Q1,0.08 0.74,0.16 L1,0.69 L0.55,0.69 L0.14,0.05 L0.5,-0.2 L0.6,-0.28 L0.2,-0.28 Z"}
    },
    {
      "data": {"values": [{"date": "2026-01-08T14:00:00Z", "low": 395.6}], "format": {"parse": {"date": "date"}}},
      "mark": {"type": "point", "filled": true, "opacity": 1, "color": "#d9d9d9", "size": 640, "shape": "M0,-0.25 L0.25,0 L0,0.25 L-0.25,0 Z M0,-1 L0.55,-0.45 L0.38,-0.28 L0,-0.66 L-0.38,-0.28 L-0.55,-0.45 Z M0,1 L0.55,0.45 L0.38,0.28 L0,0.66 L-0.38,0.28 L-0.55,0.45 Z M-0.7,-0.17 L-0.53,0 L-0.7,0.17 L-0.87,0 Z M0.7,-0.17 L0.87,0 L0.7,0.17 L0.53,0 Z"}
    },
    {
      "data": {"values": [{"date": "2026-01-15T22:00:00Z", "low": 394.5, "label": "@suzi franklen"}], "format": {"parse": {"date": "date"}}},
      "mark": {"type": "text", "align": "left", "baseline": "middle", "font": "Roboto", "fontSize": 25.9, "color": "#efefef"},
      "encoding": {"text": {"field": "label"}}
    }
  ]
}
